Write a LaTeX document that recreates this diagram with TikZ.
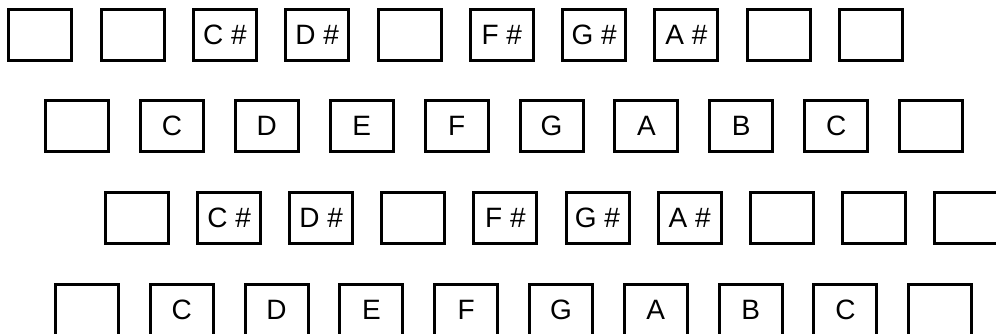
\documentclass[tikz,border=0pt]{standalone}
\usepackage{fontspec}
\setmainfont{Liberation Sans}
\usetikzlibrary{positioning}

\begin{document}
\begin{tikzpicture}[x=1pt,y=-1pt,
      key/.style={draw=black,line width=3pt,minimum width=63pt,minimum height=51pt,
                  inner sep=0pt,font=\fontsize{28}{30}\selectfont}]

    \useasboundingbox (0,0) rectangle (996,334);
    \clip (0,0) rectangle (996,334);

    % row 1: sharps
    \foreach \lab [count=\i from 0] in {{},{},C \#,D \#,{},F \#,G \#,A \#,{},{}}
      \node[key] (a\i) at (40.3+92.3*\i,35) {\lab};
    % row 2: naturals
    \foreach \lab [count=\i from 0] in {{},C,D,E,F,G,A,B,C,{}}
      \node[key] (b\i) at (77+94.9*\i,126) {\lab};
    % row 3: sharps
    \foreach \lab [count=\i from 0] in {{},C \#,D \#,{},F \#,G \#,A \#,{},{},{}}
      \node[key] (c\i) at (137+92.1*\i,217.5) {\lab};
    % row 4: naturals
    \foreach \lab [count=\i from 0] in {{},C,D,E,F,G,A,B,C,{}}
      \node[key] (d\i) at (87+94.8*\i,310) {\lab};
  \end{tikzpicture}
\end{document}
